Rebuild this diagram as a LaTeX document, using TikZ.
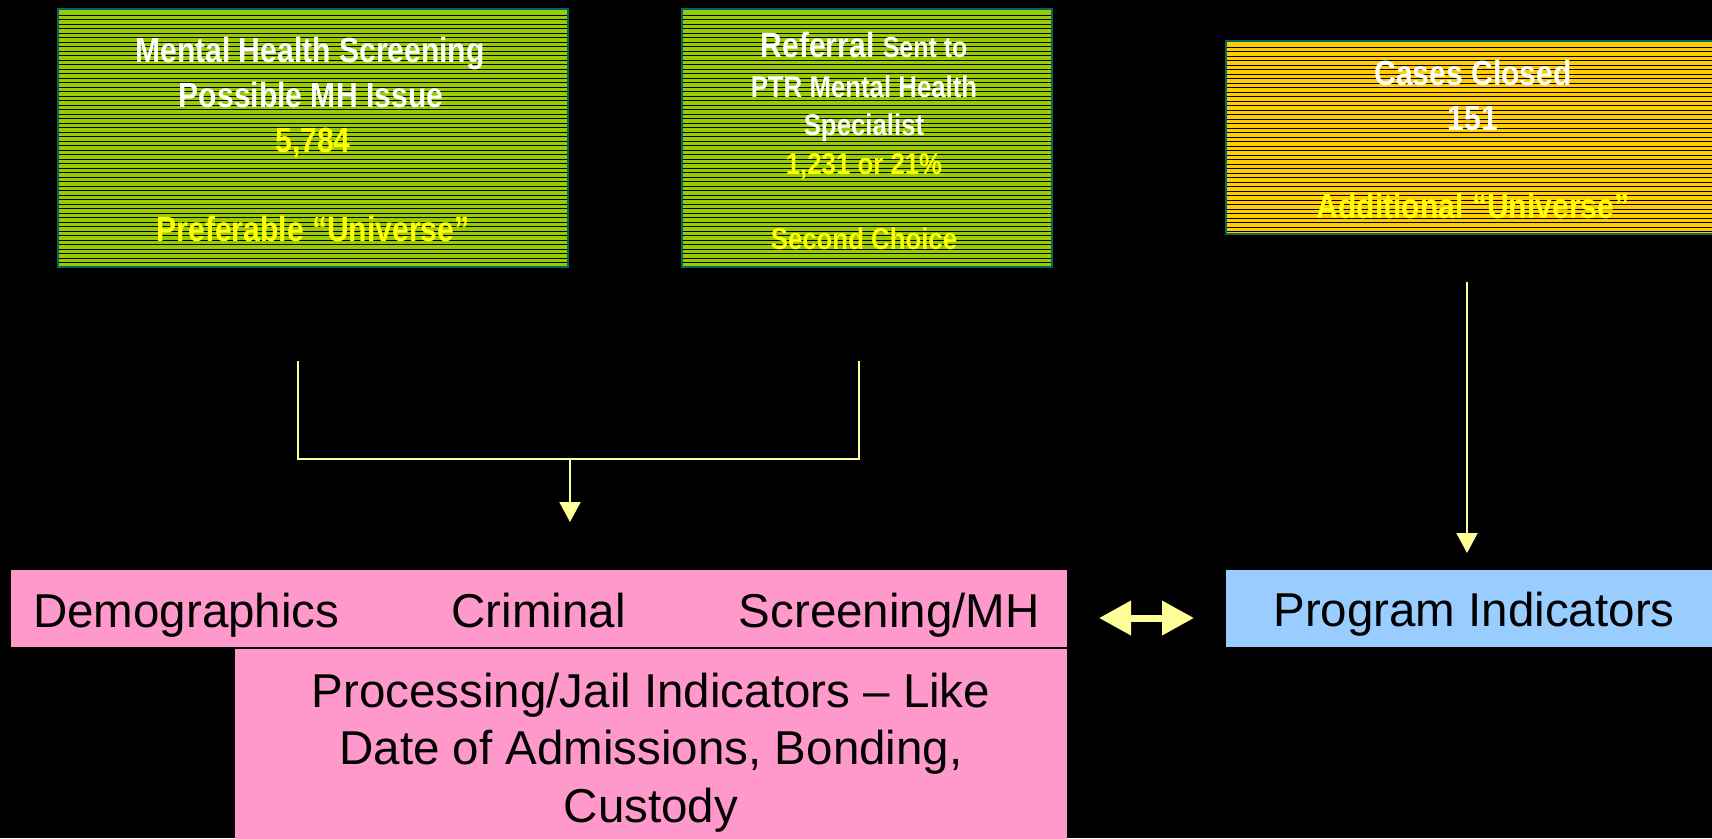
\documentclass[tikz,border=0pt]{standalone}
\usepackage{fontspec}
\setmainfont{Liberation Sans}
\newfontfamily\nb{Liberation Sans}[FakeStretch=0.86]
\usetikzlibrary{arrows.meta}
\definecolor{bggreen}{HTML}{99CC00}
\definecolor{bgorange}{HTML}{FFCC00}
\definecolor{boxedge}{HTML}{006666}
\definecolor{pinkbox}{HTML}{FF99CC}
\definecolor{bluebox}{HTML}{99CCFF}
\definecolor{lineyel}{HTML}{FFFF99}
\definecolor{txtyel}{HTML}{FFFF00}
\tikzset{
  stripebox/.style={draw=boxedge, line width=2pt, inner sep=0pt, outer sep=0pt,
    path picture={\foreach \k in {1,...,60}{
      \draw[black,line width=1pt]
        ([yshift={-\k*4.5pt-1.5pt}]path picture bounding box.north west) --
        ([yshift={-\k*4.5pt-1.5pt}]path picture bounding box.north east);}}},
  plainbox/.style={inner sep=0pt, outer sep=0pt},
  gtxt/.style={anchor=base, inner sep=0pt, text=white,
    font=\nb\bfseries\fontsize{35}{42}\selectfont},
  gsmall/.style={gtxt, font=\nb\bfseries\fontsize{30}{36}\selectfont},
  ytxt/.style={gtxt, text=txtyel},
  ysmall/.style={gsmall, text=txtyel},
  ptxt/.style={anchor=base, inner sep=0pt, text=black,
    font=\fontsize{47.5}{57}\selectfont},
  conn/.style={draw=lineyel, line width=2pt},
  arr/.style={-{Triangle[length=20pt,width=21pt]}},
  dblarr/.style={draw=lineyel, line width=7pt,
    {Triangle[length=32pt,width=33pt]}-{Triangle[length=32pt,width=33pt]}}
}
\begin{document}
\begin{tikzpicture}[x=1pt,y=-1pt]
\fill[black] (0,0) rectangle (1712,838);
\useasboundingbox (0,0) rectangle (1712,838);
\clip (0,0) rectangle (1712,838);

% top boxes
\node[stripebox, fill=bggreen, minimum width=510pt, minimum height=258pt] (g1) at (313,138) {};
\node[stripebox, fill=bggreen, minimum width=370pt, minimum height=258pt] (g2) at (867,138) {};
\node[stripebox, fill=bgorange, minimum width=496pt, minimum height=193pt] (o1) at (1474,137.5) {};

% box 1 text
\node[gtxt] (g1a) at (310,62) {Mental Health Screening};
\node[gtxt] (g1b) at (311,107) {Possible MH Issue};
\node[ytxt] (g1c) at (313,152) {5,784};
\node[ytxt] (g1d) at (313,241) {Preferable “Universe”};

% box 2 text
\node[gtxt] (g2a) at (864,57) {Referral {\fontsize{29}{34}\selectfont Sent to}};
\node[gsmall] (g2b) at (864,97) {PTR Mental Health};
\node[gsmall] (g2c) at (864,135) {Specialist};
\node[ysmall] (g2d) at (864,174) {1,231 or 21\%};
\node[ysmall] (g2e) at (864,249) {Second Choice};

% box 3 text
\node[gtxt] (o1a) at (1473,85) {Cases Closed};
\node[gtxt] (o1b) at (1473,130) {151};
\node[ytxt] (o1c) at (1473,218) {Additional “Universe”};

% bottom boxes
\node[plainbox, fill=pinkbox, minimum width=1056pt, minimum height=77pt] (pA) at (539,608.5) {};
\node[plainbox, fill=pinkbox, minimum width=832pt, minimum height=190pt] (pB) at (651,744) {};
\node[plainbox, fill=bluebox, minimum width=496pt, minimum height=77pt] (bl) at (1474,608.5) {};

\node[ptxt, anchor=base west] (pA1) at (33,627) {Demographics};
\node[ptxt] (pA2) at (538.5,627) {Criminal};
\node[ptxt, anchor=base east] (pA3) at (1040,627) {Screening/MH};

\node[ptxt] (pB1) at (651,707) {Processing/Jail Indicators – Like};
\node[ptxt] (pB2) at (651,764) {Date of Admissions, Bonding,};
\node[ptxt] (pB3) at (651,822) {Custody};

\node[ptxt] (bl1) at (1474,626) {Program Indicators};

% connectors
\coordinate (cl) at (298,361);
\coordinate (cr) at (859,361);
\coordinate (cj) at (570,459);
\coordinate (ct) at (570,522);
\draw[conn] (cl) |- (cj) -| (cr);
\draw[conn, arr] (cj) -- (ct);

\coordinate (rt) at (1467,282);
\coordinate (rb) at (1467,553);
\draw[conn, arr] (rt) -- (rb);

\coordinate (dl) at (1099,618);
\coordinate (dr) at (1194,618);
\draw[dblarr] (dl) -- (dr);
\end{tikzpicture}
\end{document}
